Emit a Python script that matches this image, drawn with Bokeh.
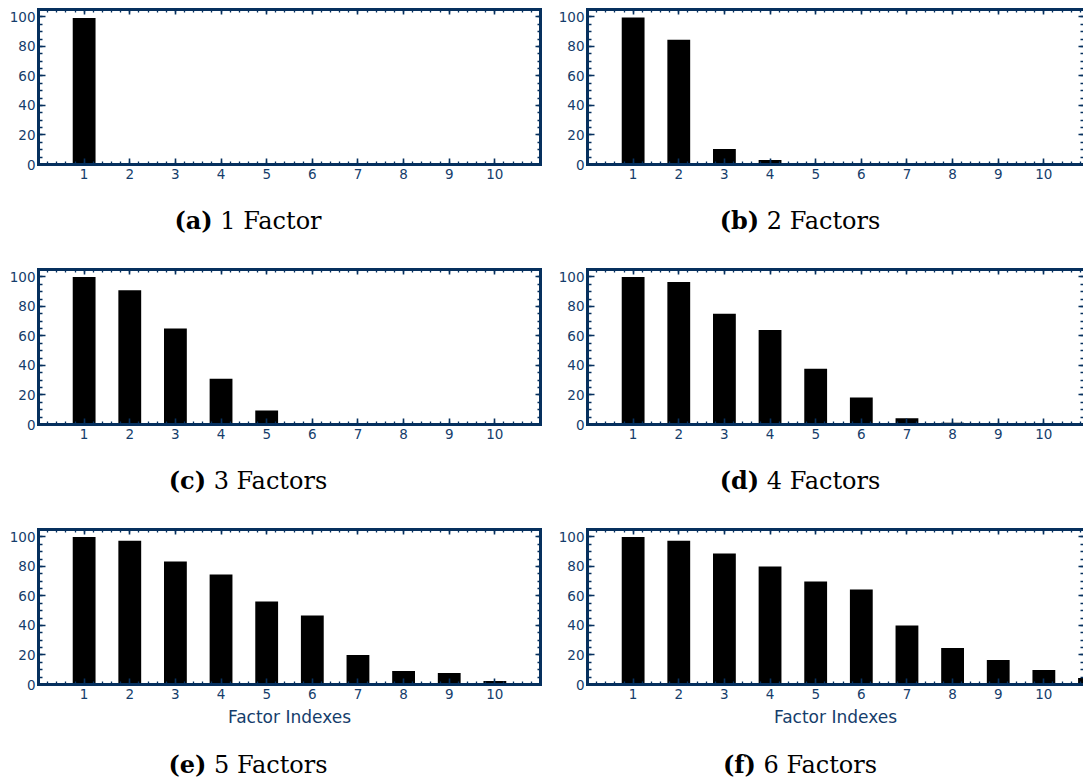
from bokeh.plotting import figure
from bokeh.models import LinearAxis, FixedTicker, Range1d, Div
from bokeh.layouts import column, row
from bokeh.embed import file_html
from bokeh.resources import INLINE

# ---------------- data ----------------
factor_index = [1, 2, 3, 4, 5, 6, 7, 8, 9, 10, 11]
x_tick_labels = ["1", "2", "3", "4", "5", "6", "7", "8", "9", "10"]
y_ticks = [0, 20, 40, 60, 80, 100]

vals_1_factor = [99.3, 0, 0, 0, 0, 0, 0, 0, 0, 0]
vals_2_factors = [99.5, 84.5, 10.5, 3.0, 0, 0, 0, 0, 0, 0]
vals_3_factors = [100, 91, 65, 31, 9.5, 1.0, 0, 0, 0, 0]
vals_4_factors = [100, 96.6, 75, 64, 37.8, 18.3, 4.3, 1.2, 0, 0]
vals_5_factors = [100, 97.3, 83.4, 74.6, 56.2, 46.8, 20, 9.2, 7.8, 2.3]
vals_6_factors = [100, 97.3, 88.8, 80, 69.7, 64.3, 40, 24.7, 16.6, 9.8, 4.4]

captions = [("(a)", "1 Factor"), ("(b)", "2 Factors"), ("(c)", "3 Factors"),
            ("(d)", "4 Factors"), ("(e)", "5 Factors"), ("(f)", "6 Factors")]
x_axis_title = "Factor Indexes"

# ---------------- style ----------------
NAVY = "#06305e"
LABEL = "#153d6b"
LW, RW = 553, 530           # figure widths (left / right column)
L_BORDER = {False: 38, True: 34}
FRAME_H = 155
TOP = 9
PX_PER_UNIT = 502 / 11.0


def style_axis(ax, tick_in, minor_in, labels, line=True):
    ax.axis_line_color = NAVY if line else None
    ax.axis_line_width = 3.0
    ax.axis_line_cap = "square"
    ax.major_tick_in = tick_in
    ax.major_tick_out = 0
    ax.minor_tick_in = minor_in
    ax.minor_tick_out = 0
    ax.major_tick_line_color = NAVY
    ax.major_tick_line_width = 1.6
    ax.minor_tick_line_color = NAVY
    ax.minor_tick_line_width = 1.3
    if labels:
        ax.major_label_text_font = "DejaVu Sans"
        ax.major_label_text_font_size = "13.5px"
        ax.major_label_text_color = LABEL
    else:
        ax.major_label_text_font_size = "0px"
        ax.major_label_text_color = None
        ax.major_label_standoff = 0


def panel(vals, right_col, last_row):
    W = RW if right_col else LW
    H = 223 if last_row else 203
    lb = L_BORDER[right_col]
    rb = 0 if right_col else W - lb - 502
    xmax = (W - lb) / PX_PER_UNIT if right_col else 11.0
    p = figure(width=W, height=H, output_backend="svg", toolbar_location=None,
               x_range=Range1d(0, xmax), y_range=Range1d(0, 105),
               x_axis_location=None, y_axis_location=None,
               min_border_left=lb, min_border_right=rb,
               min_border_top=TOP, min_border_bottom=H - TOP - FRAME_H)
    p.outline_line_color = None
    p.grid.visible = False
    p.background_fill_color = "white"
    p.border_fill_color = "white"
    xs = factor_index[:len(vals)]
    p.vbar(x=xs, top=vals, width=0.5, fill_color="black", line_color=None)

    minor_x = [round(0.2 * i, 1) for i in range(0, 56)]
    minor_y = list(range(0, 106, 5))

    def xt():
        return FixedTicker(ticks=factor_index[:10], minor_ticks=minor_x)

    def yt():
        return FixedTicker(ticks=y_ticks, minor_ticks=minor_y)

    bottom = LinearAxis(ticker=xt())
    style_axis(bottom, 6, 3, True)
    bottom.major_label_standoff = 4
    bottom.major_label_overrides = {i + 1: t for i, t in enumerate(x_tick_labels)}
    if last_row:
        bottom.axis_label = x_axis_title
        bottom.axis_label_text_font = "DejaVu Sans"
        bottom.axis_label_text_font_size = "17px"
        bottom.axis_label_text_font_style = "normal"
        bottom.axis_label_text_color = LABEL
        bottom.axis_label_standoff = 5
    p.add_layout(bottom, "below")

    left = LinearAxis(ticker=yt())
    style_axis(left, 7, 4, True)
    left.major_label_standoff = 3
    p.add_layout(left, "left")

    top = LinearAxis(ticker=xt())
    style_axis(top, 5, 3, False)
    p.add_layout(top, "above")

    right = LinearAxis(ticker=yt())
    style_axis(right, 5, 3, False, line=not right_col)
    p.add_layout(right, "right")
    return p


def caption(i, right_col, last_row):
    W = RW if right_col else LW
    inner = 494 if right_col else 496
    H = 36 if last_row else 57
    pad_top = 8 if last_row else 4
    tag, txt = captions[i]
    html = ('<div style="width:%dpx;box-sizing:border-box;padding-right:%dpx;'
            'padding-top:%dpx;text-align:center;font-family:\'DejaVu Serif\';'
            'font-size:24px;line-height:28px;color:#000;white-space:nowrap;">'
            '<b>%s</b> %s</div>') % (W, W - inner, pad_top, tag, txt)
    return Div(text=html, width=W, height=H, margin=0)


all_vals = [vals_1_factor, vals_2_factors, vals_3_factors,
            vals_4_factors, vals_5_factors, vals_6_factors]

rows = []
for r in range(3):
    last = (r == 2)
    pl = panel(all_vals[2 * r], False, last)
    pr = panel(all_vals[2 * r + 1], True, last)
    rows.append(row(pl, pr, spacing=0))
    rows.append(row(caption(2 * r, False, last), caption(2 * r + 1, True, last), spacing=0))

layout = column(*rows, spacing=0)

open("out.html", "w").write(file_html(layout, INLINE))
